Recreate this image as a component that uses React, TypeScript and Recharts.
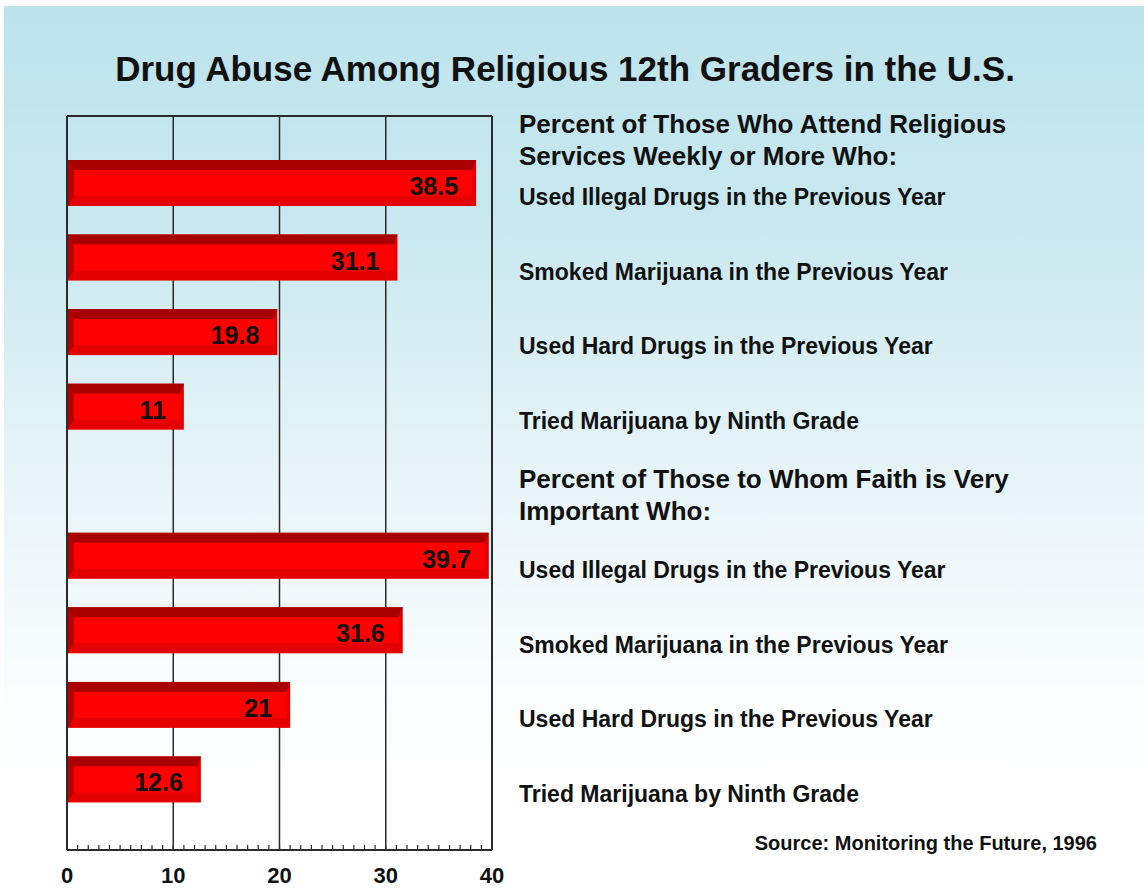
import React from "react";
import { BarChart, Bar, XAxis, YAxis, CartesianGrid, LabelList } from "recharts";

const categories = [
  "Used Illegal Drugs in the Previous Year",
  "Smoked Marijuana in the Previous Year",
  "Used Hard Drugs in the Previous Year",
  "Tried Marijuana by Ninth Grade",
];
const weeklyValues = [38.5, 31.1, 19.8, 11];
const faithValues = [39.7, 31.6, 21, 12.6];
const weeklyHeader = ["Percent of Those Who Attend Religious", "Services Weekly or More Who:"];
const faithHeader = ["Percent of Those to Whom Faith is Very", "Important Who:"];
const title = "Drug Abuse Among Religious 12th Graders in the U.S.";
const source = "Source: Monitoring the Future, 1996";
const xTicks = [0, 1, 2, 3, 4, 5, 6, 7, 8, 9, 10, 11, 12, 13, 14, 15, 16, 17, 18, 19, 20, 21, 22, 23, 24, 25, 26, 27, 28, 29, 30, 31, 32, 33, 34, 35, 36, 37, 38, 39, 40];
const majorTicks = [0, 10, 20, 30, 40];
const gridValues = [10, 20, 30];

type Row = { id: string; label: string; value: number | null; header?: string[] };

const data: Row[] = [
  ...categories.map((c, i) => ({ id: `w${i}`, label: c, value: weeklyValues[i], header: i === 0 ? weeklyHeader : undefined })),
  { id: "gap", label: "", value: null, header: faithHeader },
  ...categories.map((c, i) => ({ id: `f${i}`, label: c, value: faithValues[i] })),
];

const FONT = "'Liberation Sans', Arial, Helvetica, sans-serif";
const INK = "#111";
const LINE = "#2b2b2b";

function Bar3D(props: any) {
  const { x, y, width, height } = props;
  if (!width || width <= 0) return null;
  const t = 10, l = 7, b = 10, r = 4;
  return (
    <g>
      <rect x={x} y={y} width={width} height={height} fill="#e40000" />
      <polygon points={`${x},${y} ${x + width},${y} ${x + width - r},${y + t} ${x + l},${y + t}`} fill="#a80000" />
      <polygon points={`${x},${y} ${x + l},${y + t} ${x + l},${y + height - b} ${x},${y + height}`} fill="#b80000" />
      <rect x={x + l} y={y + t} width={width - l - r} height={height - t - b} fill="#ff0000" />
    </g>
  );
}

function ValueLabel(props: any) {
  const { x, y, width, value } = props;
  if (value === null || value === undefined) return null;
  return (
    <text x={x + width - 18} y={y + 35} textAnchor="end" fontFamily={FONT} fontWeight="bold" fontSize={25} fill={INK}>
      {value}
    </text>
  );
}

function XTick(props: any) {
  const { x, y, payload } = props;
  const v = payload.value;
  const major = majorTicks.includes(v);
  return (
    <g>
      <line x1={x} x2={x} y1={y} y2={y - 5} stroke={LINE} strokeWidth={1.2} />
      {major && (
        <text x={x} y={y + 33} textAnchor="middle" fontFamily={FONT} fontWeight="bold" fontSize={22} fill={INK}>
          {v}
        </text>
      )}
    </g>
  );
}

function RightTick(props: any) {
  const { x, y, payload } = props;
  const row = data.find((d) => d.id === payload.value);
  if (!row) return null;
  const tx = x + 27;
  const isGap = row.id === "gap";
  return (
    <g>
      {row.label && (
        <text x={tx} y={y + 22} fontFamily={FONT} fontWeight="bold" fontSize={23} fill={INK}>
          {row.label}
        </text>
      )}
      {row.header &&
        row.header.map((h, i) => (
          <text
            key={i}
            x={tx}
            y={isGap ? y + 6 + i * 32 : y - 50 + i * 32}
            fontFamily={FONT}
            fontWeight="bold"
            fontSize={26}
            fill={INK}
          >
            {h}
          </text>
        ))}
    </g>
  );
}

export default function App() {
  return (
    <div style={{ position: "absolute", left: 0, top: 0, width: 1144, height: 888, background: "#fff", overflow: "hidden" }}>
      <div
        style={{
          position: "absolute",
          left: 4,
          top: 6,
          right: 0,
          bottom: 0,
          background: "linear-gradient(to bottom, #bde3ec 0%, #c9e8ef 25%, #dff1f5 45%, #eef7fa 62%, #fafdfe 78%, #ffffff 88%)",
        }}
      />
      <div style={{ position: "absolute", left: 0, top: 0 }}>
        <BarChart
          width={1144}
          height={888}
          data={data}
          layout="vertical"
          margin={{ top: 115, right: 52, bottom: 8, left: 66 }}
          barCategoryGap={0}
        >
          <CartesianGrid
            xAxisId="x"
            yAxisId="left"
            horizontal={false}
            vertical
            verticalValues={gridValues}
            stroke={LINE}
            strokeWidth={1.5}
          />
          <XAxis
            xAxisId="x"
            type="number"
            domain={[0, 40]}
            ticks={xTicks}
            interval={0}
            tick={<XTick />}
            tickLine={false}
            tickSize={0}
            tickMargin={0}
            height={30}
            axisLine={{ stroke: LINE, strokeWidth: 2 }}
            allowDataOverflow
          />
          <XAxis
            xAxisId="top"
            orientation="top"
            type="number"
            domain={[0, 40]}
            tick={false}
            tickLine={false}
            height={1}
            axisLine={{ stroke: LINE, strokeWidth: 2 }}
          />
          <YAxis
            yAxisId="left"
            type="category"
            dataKey="id"
            width={1}
            tick={false}
            tickLine={false}
            padding={{ top: 30, bottom: 33 }}
            axisLine={{ stroke: LINE, strokeWidth: 2 }}
          />
          <YAxis
            yAxisId="right"
            orientation="right"
            type="category"
            dataKey="id"
            width={600}
            tick={<RightTick />}
            tickLine={false}
            tickSize={0}
            tickMargin={0}
            interval={0}
            padding={{ top: 30, bottom: 33 }}
            axisLine={{ stroke: LINE, strokeWidth: 2 }}
          />
          <Bar
            dataKey="value"
            xAxisId="x"
            yAxisId="left"
            barSize={46}
            shape={<Bar3D />}
            isAnimationActive={false}
          >
            <LabelList dataKey="value" content={<ValueLabel />} />
          </Bar>
        </BarChart>
      </div>
      <svg width={1144} height={888} style={{ position: "absolute", left: 0, top: 0, pointerEvents: "none" }}>
        <text x={565} y={81} textAnchor="middle" fontFamily={FONT} fontWeight="bold" fontSize={35} fill={INK}>
          {title}
        </text>
        <text x={1097} y={850} textAnchor="end" fontFamily={FONT} fontWeight="bold" fontSize={20} fill={INK}>
          {source}
        </text>
      </svg>
    </div>
  );
}
